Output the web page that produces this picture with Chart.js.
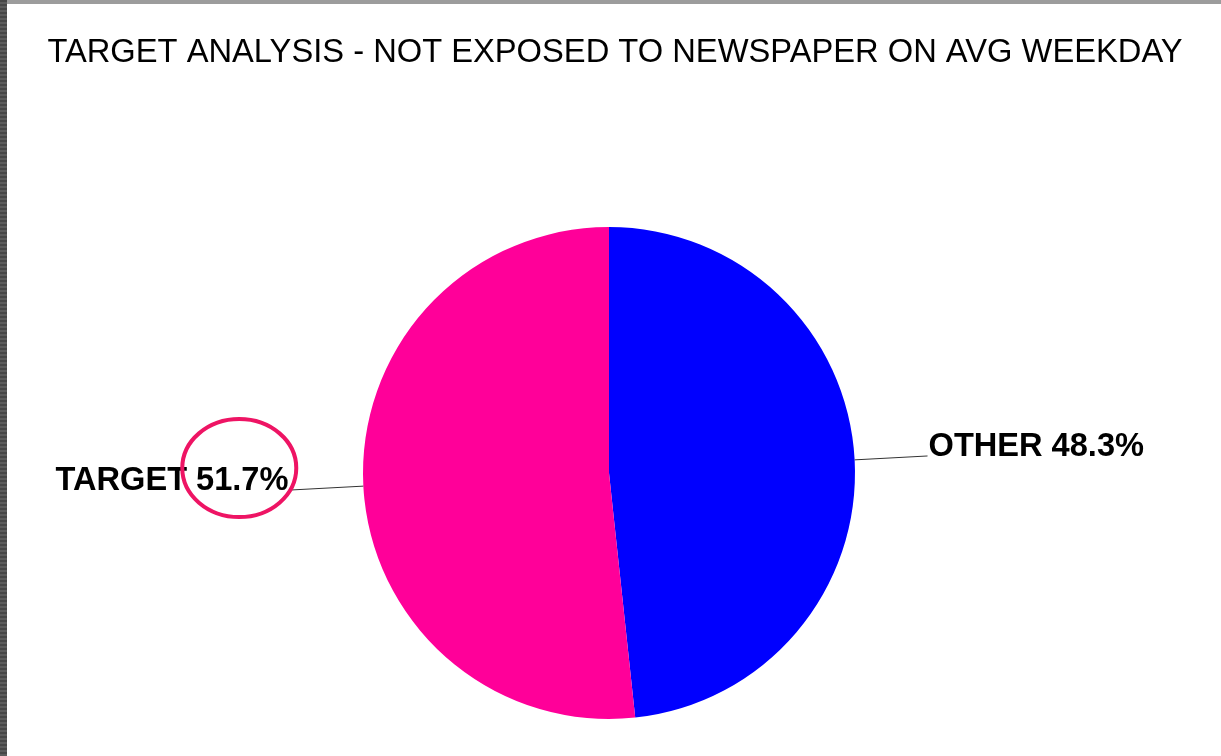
<!DOCTYPE html>
<html>
<head>
<meta charset="utf-8">
<title>Target analysis</title>
<script src="https://cdn.jsdelivr.net/npm/chart.js@4.4.1/dist/chart.umd.min.js"></script>
<style>
  html, body { margin: 0; padding: 0; }
  body { width: 1221px; height: 756px; overflow: hidden; background: #fff; position: relative; }
  .frame-top { position: absolute; left: 0; top: 0; width: 1221px; height: 4px; background: #9c9c9c; }
  .frame-left { position: absolute; left: 0; top: 0; width: 7px; height: 756px;
    background: repeating-linear-gradient(180deg, #474747 0 2px, #5c5c5c 2px 4px); }
  #pie { position: absolute; left: 0; top: 0; }
</style>
</head>
<body>
<div class="frame-top"></div>
<div class="frame-left"></div>
<canvas id="pie" width="1221" height="756"></canvas>
<script>
const chartTitle = 'TARGET ANALYSIS - NOT EXPOSED TO NEWSPAPER ON AVG WEEKDAY'
const categories = ['OTHER', 'TARGET']
const shares = [48.3, 51.7]
const sliceColors = ['#0000ff', '#ff0099']
const circled = 'TARGET'

// title, leader lines and slice labels drawn on top of the pie
const calloutLabels = {
  id: 'calloutLabels',
  afterDatasetsDraw(chart) {
    const ctx = chart.ctx
    const meta = chart.getDatasetMeta(0)
    ctx.save()

    ctx.font = '32.7px "Liberation Sans", Arial, sans-serif'
    ctx.fillStyle = '#000'
    ctx.textAlign = 'center'
    ctx.textBaseline = 'alphabetic'
    ctx.fillText(chartTitle, 615, 62)

    meta.data.forEach((arc, i) => {
      const { x, y, startAngle, endAngle, outerRadius } =
        arc.getProps(['x', 'y', 'startAngle', 'endAngle', 'outerRadius'], true)
      const mid = (startAngle + endAngle) / 2
      const cos = Math.cos(mid)
      const sin = Math.sin(mid)
      const x0 = x + cos * outerRadius
      const y0 = y + sin * outerRadius
      const x1 = x + cos * (outerRadius + 73)
      const y1 = y + sin * (outerRadius + 73)

      ctx.strokeStyle = '#333'
      ctx.lineWidth = 1
      ctx.beginPath()
      ctx.moveTo(x0, y0)
      ctx.lineTo(x1, y1)
      ctx.stroke()

      const pct = shares[i].toFixed(1) + '%'
      const text = categories[i] + ' ' + pct
      ctx.font = 'bold 32.6px "Liberation Sans", Arial, sans-serif'
      ctx.fillStyle = '#000'
      const right = cos < 0
      ctx.textAlign = right ? 'right' : 'left'
      const tx = right ? x1 - 2 : x1 + 1
      ctx.fillText(text, tx, y1)

      if (categories[i] === circled) {
        const w = ctx.measureText(pct).width
        const cx = right ? tx - w / 2 - 3 : tx + ctx.measureText(text).width - w / 2 - 3
        ctx.strokeStyle = '#ee1464'
        ctx.lineWidth = 4
        ctx.beginPath()
        ctx.ellipse(cx, y1 - 22, 57, 49, 0, 0, Math.PI * 2)
        ctx.stroke()
      }
    })
    ctx.restore()
  }
}

new Chart(document.getElementById('pie'), {
  type: 'pie',
  data: {
    labels: categories,
    datasets: [
      {
        data: shares,
        backgroundColor: sliceColors,
        borderWidth: 0
      }
    ]
  },
  options: {
    responsive: false,
    animation: false,
    layout: {
      padding: { top: 227, bottom: 37, left: 363, right: 366 }
    },
    plugins: {
      legend: { display: false },
      tooltip: { enabled: false },
      title: { display: false }
    }
  },
  plugins: [calloutLabels]
})
</script>
</body>
</html>
